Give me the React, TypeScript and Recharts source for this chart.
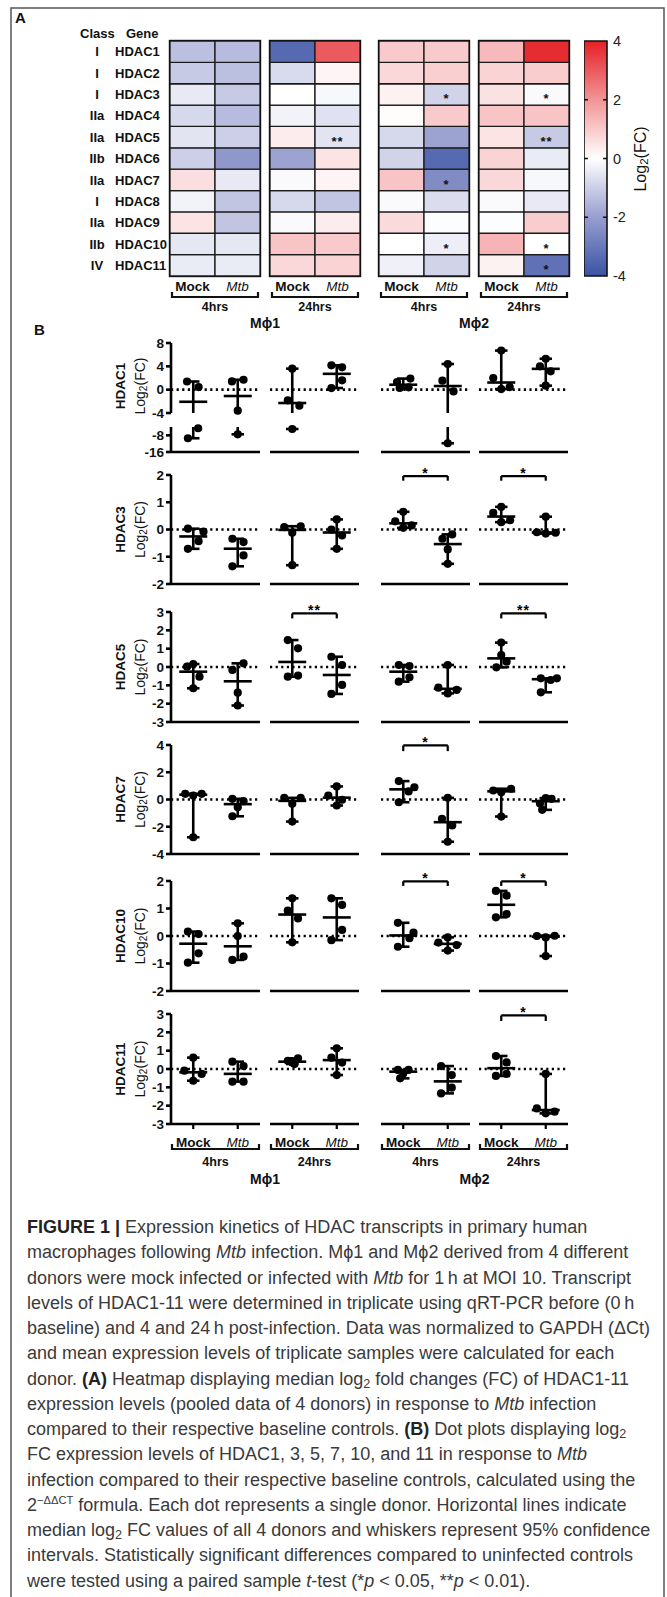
import React from 'react';
import {
  ScatterChart, Scatter, XAxis, YAxis, ReferenceLine, ReferenceArea,
  BarChart, Bar, Cell, LabelList,
} from 'recharts';

const FONT = '"Liberation Sans", Arial, Helvetica, sans-serif';

// ---------- categories ----------
const genes = ['HDAC1', 'HDAC2', 'HDAC3', 'HDAC4', 'HDAC5', 'HDAC6', 'HDAC7', 'HDAC8', 'HDAC9', 'HDAC10', 'HDAC11'];
const geneClasses = ['I', 'I', 'I', 'IIa', 'IIa', 'IIb', 'IIa', 'I', 'IIa', 'IIb', 'IV'];
const conditions = ['Mock', 'Mtb'];
const timepoints = ['4hrs', '24hrs'];
const cellTypes = ['M\u03d51', 'M\u03d52'];

// ---------- heatmap: median log2(FC) ----------
const heatM1h4Mock = [-1.3, -1.1, -0.45, -0.8, -0.55, -1.0, 0.6, -0.25, 0.5, -0.5, -0.4];
const heatM1h4Mtb = [-1.4, -1.3, -1.1, -1.4, -1.0, -2.2, -0.45, -1.2, -1.2, -0.5, -0.4];
const heatM1h24Mock = [-3.4, -0.75, 0, -0.25, 0.35, -1.9, -0.1, -0.8, -0.1, 1.1, 0.75];
const heatM1h24Mtb = [3.0, 0.2, -0.15, -0.6, -0.55, 0.5, 0.2, -1.2, 0.35, 1.0, 0.8];
const heatM2h4Mock = [1.0, 0.75, 0.25, 0.05, -0.8, -0.9, 1.1, -0.1, 0.7, 0, -0.3];
const heatM2h4Mtb = [1.0, 0.9, -0.9, 1.0, -1.9, -3.4, -2.5, -0.7, -0.05, -0.35, -0.9];
const heatM2h24Mock = [1.3, 0.8, 0.55, 1.1, 0.5, 0.8, 0.75, -0.1, -0.05, 1.4, 0.25];
const heatM2h24Mtb = [3.8, 0.95, -0.1, 1.1, -1.1, -0.4, -0.15, -0.45, 0.95, 0, -3.2];
const sigM1h4 = ['', '', '', '', '', '', '', '', '', '', ''];
const sigM1h24 = ['', '', '', '', '**', '', '', '', '', '', ''];
const sigM2h4 = ['', '', '*', '', '', '', '*', '', '', '*', ''];
const sigM2h24 = ['', '', '*', '', '**', '', '', '', '', '*', '*'];
const colorTicks = [-4, -2, 0, 2, 4];

const heatBlocks = [
  { values: [heatM1h4Mock, heatM1h4Mtb], sig: sigM1h4 },
  { values: [heatM1h24Mock, heatM1h24Mtb], sig: sigM1h24 },
  { values: [heatM2h4Mock, heatM2h4Mtb], sig: sigM2h4 },
  { values: [heatM2h24Mock, heatM2h24Mtb], sig: sigM2h24 },
];

// ---------- dot plots: per-donor log2(FC) ----------
// group order: M1 4h Mock, M1 4h Mtb, M1 24h Mock, M1 24h Mtb, M2 4h Mock, M2 4h Mtb, M2 24h Mock, M2 24h Mtb
const hdac1Dots = [
  [1.4, 0.45, -4.6, -9.4], [1.7, 1.42, -3.6, -7.5], [3.6, -1.83, -2.75, -4.96], [4.17, 3.83, 1.6, 0.28],
  [1.9, 1.3, 0.4, 0.3], [4.4, 1.54, -0.3, -11.8], [6.7, 2.0, 0.45, 0.1], [5.3, 4.0, 3.14, 0.69],
];
const hdac3Dots = [
  [0.03, -0.08, -0.43, -0.71], [-0.34, -0.46, -0.95, -1.35], [0.12, 0.09, -0.12, -1.31], [0.37, 0, -0.22, -0.71],
  [0.65, 0.3, 0.15, 0.06], [-0.18, -0.34, -0.73, -1.26], [0.83, 0.61, 0.34, 0.27], [0.47, -0.1, -0.12, -0.15],
];
const hdac5Dots = [
  [0.16, 0.02, -0.53, -1.16], [0.2, -0.16, -1.4, -2.1], [1.47, 1.02, -0.47, -0.53], [0.56, 0.11, -0.98, -1.47],
  [0.11, 0.05, -0.56, -0.8], [0.11, -1.13, -1.25, -1.44], [1.33, 0.65, 0.29, -0.02], [-0.62, -0.71, -0.62, -1.38],
];
const hdac7Dots = [
  [0.42, 0.42, 0.29, -2.77], [0.05, -0.12, -0.56, -1.23], [0.12, 0.12, -0.32, -1.62], [0.96, 0.29, -0.02, -0.44],
  [1.35, 0.9, 0.59, -0.2], [0.12, -1.42, -1.91, -3.1], [0.79, 0.66, 0.54, -1.25], [0.1, 0.05, -0.3, -0.76],
];
const hdac10Dots = [
  [0.16, 0.07, -0.63, -0.97], [0.46, 0, -0.75, -0.87], [1.37, 0.92, 0.64, -0.23], [1.37, 1.13, 0.22, -0.15],
  [0.48, 0.12, -0.08, -0.39], [-0.05, -0.24, -0.33, -0.53], [1.64, 1.47, 0.8, 0.68], [0.01, 0, -0.05, -0.73],
];
const hdac11Dots = [
  [0.62, -0.09, -0.27, -0.64], [0.4, 0.16, -0.69, -0.69], [0.58, 0.45, 0.35, 0.27], [1.13, 0.62, 0.35, -0.33],
  [-0.05, -0.05, -0.24, -0.51], [0.16, -0.33, -1.02, -1.33], [0.71, 0.36, -0.27, -0.38], [-0.27, -2.15, -2.33, -2.42],
];
// horizontal spread of overlapping dots (category units)
const hdac1Jitter = [
  [-0.14, 0.12, 0.11, -0.12], [0.13, -0.13, 0, 0], [0, -0.1, 0.16, 0], [-0.12, 0.12, 0.12, -0.12],
  [0.16, -0.14, 0.12, -0.08], [0, -0.12, 0.13, 0], [0, -0.18, 0.19, 0], [0, -0.13, 0.11, 0],
];
const hdac3Jitter = [
  [-0.12, 0.23, 0.12, -0.12], [-0.12, 0.13, 0.13, -0.12], [0.19, -0.18, 0, 0], [0, -0.12, 0.12, 0],
  [0, -0.18, 0.19, 0], [0.1, -0.12, 0, 0], [0, -0.18, 0.2, 0], [0, -0.2, 0.22, 0],
];
const hdac5Jitter = [
  [0, -0.14, 0.14, 0], [0.13, -0.12, 0, 0], [-0.1, 0.13, 0.13, -0.1], [-0.12, 0.12, 0.12, -0.12],
  [-0.1, 0.14, 0.14, -0.1], [0, -0.21, 0.2, 0], [0, 0, 0.12, -0.11], [-0.11, 0.11, 0.25, -0.11],
];
const hdac7Jitter = [
  [-0.18, 0.19, 0, 0], [-0.12, 0.13, 0, -0.12], [-0.18, 0.19, 0, 0], [0, -0.19, 0.12, 0],
  [-0.1, 0.25, 0.12, -0.1], [0, -0.13, 0.1, 0], [0.22, -0.18, 0, 0], [0, 0.13, -0.13, -0.08],
];
const hdac10Jitter = [
  [-0.12, 0.12, 0.12, -0.12], [0, 0, 0.13, -0.12], [0, -0.1, 0.13, 0], [-0.12, 0.12, 0.12, -0.12],
  [-0.12, 0.23, 0.14, -0.12], [0, -0.21, 0.2, 0], [-0.12, 0.12, 0.12, -0.12], [0.2, -0.2, 0, 0],
];
const hdac11Jitter = [
  [0, -0.2, 0.19, 0], [-0.12, 0.13, -0.12, 0.13], [0.13, -0.1, 0, 0.05], [0, -0.12, 0.12, 0],
  [-0.12, 0.12, 0, -0.07], [-0.15, 0.09, 0.09, -0.15], [-0.12, 0.12, 0.12, -0.12], [0, -0.2, 0.2, 0],
];
// significance brackets: segment (M1 4h, M1 24h, M2 4h, M2 24h), bracket level, leg length, label
const hdac3Sig = [{ seg: 2, y: 1.96, drop: 0.17, label: '*' }, { seg: 3, y: 1.96, drop: 0.17, label: '*' }];
const hdac5Sig = [{ seg: 1, y: 2.92, drop: 0.27, label: '**' }, { seg: 3, y: 2.92, drop: 0.27, label: '**' }];
const hdac7Sig = [{ seg: 2, y: 3.97, drop: 0.42, label: '*' }];
const hdac10Sig = [{ seg: 2, y: 1.99, drop: 0.17, label: '*' }, { seg: 3, y: 1.99, drop: 0.17, label: '*' }];
const hdac11Sig = [{ seg: 3, y: 2.92, drop: 0.3, label: '*' }];

// ---------- layout ----------
const SEG_LEFT = [171, 270, 381, 479];
const SEG_W = 89;
const HEAT_LEFT = [170, 270, 379, 479];
const HEAT_W = 90;
const HEAT_TOP = 41;
const HEAT_H = 235;
const YW = 50;
const CAP = 0.14;
const MED = 14;
const LW = 2.6;

const panels: any[] = [
  { gene: 'HDAC1', dots: hdac1Dots, jitter: hdac1Jitter, sig: [], top: 343, h: 70, domain: [-4, 8], ticks: [-4, 0, 4, 8],
    lower: { top: 427, h: 25, domain: [-16, -4], ticks: [-16, -8] }, labelY: 386 },
  { gene: 'HDAC3', dots: hdac3Dots, jitter: hdac3Jitter, sig: hdac3Sig, top: 475, h: 109, domain: [-2, 2], ticks: [-2, -1, 0, 1, 2] },
  { gene: 'HDAC5', dots: hdac5Dots, jitter: hdac5Jitter, sig: hdac5Sig, top: 612, h: 110, domain: [-3, 3], ticks: [-3, -2, -1, 0, 1, 2, 3] },
  { gene: 'HDAC7', dots: hdac7Dots, jitter: hdac7Jitter, sig: hdac7Sig, top: 745, h: 109, domain: [-4, 4], ticks: [-4, -2, 0, 2, 4] },
  { gene: 'HDAC10', dots: hdac10Dots, jitter: hdac10Jitter, sig: hdac10Sig, top: 881, h: 110, domain: [-2, 2], ticks: [-2, -1, 0, 1, 2] },
  { gene: 'HDAC11', dots: hdac11Dots, jitter: hdac11Jitter, sig: hdac11Sig, top: 1014, h: 110, domain: [-3, 3], ticks: [-3, -2, -1, 0, 1, 2, 3], last: true },
];

// ---------- colours ----------
const colorStops: [number, number[]][] = [
  [-4, [58, 83, 164]], [-2, [152, 158, 207]], [0, [255, 255, 255]], [2, [242, 148, 150]], [4, [228, 32, 38]],
];
function heatColor(v: number) {
  const x = Math.max(-4, Math.min(4, v));
  for (let i = 0; i < colorStops.length - 1; i++) {
    const [a, ca] = colorStops[i];
    const [b, cb] = colorStops[i + 1];
    if (x >= a && x <= b) {
      const t = (x - a) / (b - a);
      const c = ca.map((q, k) => Math.round(q + (cb[k] - q) * t));
      return `rgb(${c[0]},${c[1]},${c[2]})`;
    }
  }
  return '#fff';
}

function CatTick(props: any) {
  const { x, y, payload, dy = 15, fs = 13.5 } = props;
  const v = payload.value;
  const idx = typeof v === 'number' ? (v < 1 ? 0 : 1) : conditions.indexOf(v);
  return (
    <text x={x} y={y + dy} textAnchor="middle" fontSize={fs} fill="#111"
      fontWeight={idx === 0 ? 'bold' : 'normal'} fontStyle={idx === 1 ? 'italic' : 'normal'}>
      {conditions[idx]}
    </text>
  );
}

function MedianShape(p: any) {
  return <line x1={p.cx - MED} x2={p.cx + MED} y1={p.cy} y2={p.cy} stroke="#000" strokeWidth={LW} />;
}
function DotShape(p: any) {
  return <circle cx={p.cx} cy={p.cy} r={4.1} fill="#000" />;
}
function StarShape(p: any) {
  return (
    <text x={p.cx} y={p.cy + 1.5} textAnchor="middle" fontSize={14} fontWeight="bold" fill="#000" letterSpacing={1}>
      {p.payload.label}
    </text>
  );
}
const NoShape = () => <g />;

function SegChart({ cfg, seg, part }: any) {
  const isLower = part === 'lower';
  const isUpper = part === 'upper';
  const dom = isLower ? cfg.lower.domain : cfg.domain;
  const ticks = isLower ? cfg.lower.ticks : cfg.ticks;
  const plotTop = isLower ? cfg.lower.top : cfg.top;
  const plotH = isLower ? cfg.lower.h : cfg.h;
  const showX = !isUpper;
  const first = seg === 0;
  const MT = isLower ? 8 : 16;
  const MB = isUpper ? 12 : 2;
  const XH = showX ? (cfg.last ? 30 : 8) : 0;
  const inDom = (v: number) => v >= dom[0] && v <= dom[1];

  const dotData: any[] = [];
  const medData: any[] = [];
  const lines: any[] = [];
  [0, 1].forEach((k) => {
    const g = seg * 2 + k;
    const cx = k + 0.5;
    const vals: number[] = cfg.dots[g];
    const jit: number[] = cfg.jitter[g];
    vals.forEach((v, i) => { if (inDom(v)) dotData.push({ x: cx + jit[i], y: v }); });
    const s = [...vals].sort((a, b) => a - b);
    const med = (s[1] + s[2]) / 2;
    const lo = s[0];
    const hi = s[3];
    if (inDom(med)) medData.push({ x: cx, y: med });
    const a = Math.max(lo, dom[0]);
    const b = Math.min(hi, dom[1]);
    if (a < b) {
      lines.push([{ x: cx, y: a }, { x: cx, y: b }]);
      if (inDom(lo)) lines.push([{ x: cx - CAP, y: lo }, { x: cx + CAP, y: lo }]);
      if (inDom(hi)) lines.push([{ x: cx - CAP, y: hi }, { x: cx + CAP, y: hi }]);
    }
  });
  const sigs = part === 'full' ? cfg.sig.filter((q: any) => q.seg === seg) : [];
  const starData = sigs.map((q: any) => ({ x: 1, y: q.y, label: q.label }));
  const bracketLines: any[] = [];
  sigs.forEach((q: any) => {
    bracketLines.push([{ x: 0.5, y: q.y }, { x: 1.5, y: q.y }]);
    bracketLines.push([{ x: 0.5, y: q.y }, { x: 0.5, y: q.y - q.drop }]);
    bracketLines.push([{ x: 1.5, y: q.y }, { x: 1.5, y: q.y - q.drop }]);
  });

  const width = SEG_W + (first ? YW : 0) + 2;
  const height = MT + plotH + XH + MB;
  const children: any[] = [];
  children.push(
    <XAxis key="x" type="number" dataKey="x" domain={[0, 2]} ticks={[0.5, 1.5]} interval={0}
      hide={!showX} height={XH} axisLine={{ stroke: '#000', strokeWidth: LW }}
      tickLine={{ stroke: '#000', strokeWidth: 2.2 }} tickSize={5}
      tick={cfg.last ? <CatTick dy={16} /> : false} />,
  );
  children.push(
    <YAxis key="y" type="number" dataKey="y" domain={dom} ticks={ticks} interval={0} hide={!first} width={YW}
      axisLine={{ stroke: '#000', strokeWidth: LW }} tickLine={{ stroke: '#000', strokeWidth: LW }} tickSize={5}
      tick={{ fontSize: 13.5, fontWeight: 'bold', fill: '#111' }} />,
  );
  if (inDom(0)) {
    children.push(<ReferenceLine key="zero" y={0} stroke="#000" strokeWidth={2.6} strokeDasharray="2.2 3.4" ifOverflow="visible" />);
  }
  lines.forEach((sg, i) => {
    children.push(<ReferenceLine key={'w' + i} segment={sg} stroke="#000" strokeWidth={LW} ifOverflow="visible" />);
  });
  bracketLines.forEach((sg, i) => {
    children.push(<ReferenceLine key={'b' + i} segment={sg} stroke="#000" strokeWidth={2.2} ifOverflow="visible" />);
  });
  children.push(<Scatter key="dots" data={dotData} shape={DotShape} isAnimationActive={false} />);
  children.push(<Scatter key="med" data={medData} shape={MedianShape} isAnimationActive={false} />);
  children.push(<Scatter key="star" data={starData} shape={StarShape} isAnimationActive={false} />);

  return (
    <div style={{ position: 'absolute', left: SEG_LEFT[seg] - (first ? YW : 0), top: plotTop - MT }}>
      <ScatterChart width={width} height={height} margin={{ top: MT, right: 2, bottom: MB, left: 0 }}>
        {children}
      </ScatterChart>
    </div>
  );
}

function HeatBlock({ block, left }: any) {
  const data = conditions.map((c) => {
    const row: any = { cat: c };
    genes.forEach((g) => { row[g] = 1; });
    return row;
  });
  const order = genes.map((g, i) => i).reverse();
  return (
    <div style={{ position: 'absolute', left, top: HEAT_TOP }}>
      <BarChart width={HEAT_W} height={HEAT_H + 22} data={data} margin={{ top: 0, right: 0, bottom: 0, left: 0 }}
        barCategoryGap={0} barGap={0}>
        <XAxis dataKey="cat" tickLine={false} axisLine={false} tickSize={0} tickMargin={0} height={22}
          interval={0} tick={<CatTick dy={15} />} />
        <YAxis type="number" domain={[0, genes.length]} hide />
        {order.map((gi) => (
          <Bar key={genes[gi]} dataKey={genes[gi]} stackId="h" isAnimationActive={false}>
            {conditions.map((c, ci) => (
              <Cell key={c} fill={heatColor(block.values[ci][gi])} stroke="#1a1a1a" strokeWidth={1.3} />
            ))}
            <LabelList content={(p: any) => {
              const s = p.index === 1 ? block.sig[gi] : '';
              if (!s) return null;
              return (
                <text x={p.x + p.width / 2} y={p.y + p.height / 2 + 9} textAnchor="middle" fontSize={13}
                  fontWeight="bold" fill="#111" letterSpacing={1}>{s}</text>
              );
            }} />
          </Bar>
        ))}
      </BarChart>
    </div>
  );
}

function ColorBar() {
  const data = colorTicks.map((t) => ({ x: 0.5, y: t }));
  const marks: any[] = [];
  colorTicks.filter((t) => t > -4 && t < 4).forEach((t) => {
    marks.push(<ReferenceLine key={'l' + t} segment={[{ x: 0, y: t }, { x: 0.17, y: t }]} stroke="#111" strokeWidth={1.6} ifOverflow="visible" />);
    marks.push(<ReferenceLine key={'r' + t} segment={[{ x: 0.83, y: t }, { x: 1, y: t }]} stroke="#111" strokeWidth={1.6} ifOverflow="visible" />);
  });
  return (
    <div style={{ position: 'absolute', left: 584, top: HEAT_TOP - 10 }}>
      <ScatterChart width={23 + 34} height={HEAT_H + 20} margin={{ top: 10, right: 0, bottom: 10, left: 0 }}>
        <XAxis type="number" dataKey="x" domain={[0, 1]} hide />
        <YAxis type="number" dataKey="y" orientation="right" domain={[-4, 4]} ticks={colorTicks} interval={0} width={34}
          axisLine={false} tickLine={false} tickSize={4} tick={{ fontSize: 14.5, fill: '#222' }} />
        <ReferenceArea x1={0} x2={1} y1={-4} y2={4} fill="url(#cbGrad)" fillOpacity={1} stroke="#111" strokeWidth={1.6} ifOverflow="visible" />
        {marks}
        <Scatter data={data} shape={NoShape} isAnimationActive={false} />
      </ScatterChart>
    </div>
  );
}

function Log2Label({ x, y, fs }: any) {
  return (
    <text transform={`translate(${x},${y}) rotate(-90)`} textAnchor="middle" dominantBaseline="central" fontSize={fs} fill="#111">
      Log<tspan fontSize={fs * 0.72} dy={fs * 0.22}>2</tspan><tspan dy={-fs * 0.22}>(FC)</tspan>
    </text>
  );
}

function Overlay() {
  const rowH = HEAT_H / genes.length;
  const segC = SEG_LEFT.map((l) => l + SEG_W / 2);
  const heatC = HEAT_LEFT.map((l) => l + HEAT_W / 2);
  return (
    <svg width={667} height={1597} style={{ position: 'absolute', left: 0, top: 0 }} fontFamily={FONT}>
      <defs>
        <linearGradient id="cbGrad" x1="0" y1="0" x2="0" y2="1">
          {[...colorStops].reverse().map(([v, c], i) => (
            <stop key={i} offset={`${((4 - v) / 8) * 100}%`} stopColor={`rgb(${c[0]},${c[1]},${c[2]})`} />
          ))}
        </linearGradient>
      </defs>
      {/* frame */}
      <path d="M11,1597 V8 H664 V1597" fill="none" stroke="#555" strokeWidth={1.5} />
      <text x={15} y={23} fontSize={15} fontWeight="bold" fill="#111">A</text>
      <text x={34} y={335} fontSize={15} fontWeight="bold" fill="#111">B</text>
      {/* heatmap row labels */}
      <text x={80} y={38} fontSize={13} fontWeight="bold" fill="#111">Class</text>
      <text x={126} y={38} fontSize={13} fontWeight="bold" fill="#111">Gene</text>
      {genes.map((g, i) => (
        <g key={g}>
          <text x={97} y={HEAT_TOP + rowH * (i + 0.5) + 4.7} fontSize={13} fontWeight="bold" textAnchor="middle" fill="#111">{geneClasses[i]}</text>
          <text x={115} y={HEAT_TOP + rowH * (i + 0.5) + 4.7} fontSize={13} fontWeight="bold" fill="#111">{g}</text>
        </g>
      ))}
      {HEAT_LEFT.map((l, b) => (
        <g key={'hb' + b}>
          <rect x={l} y={HEAT_TOP} width={HEAT_W} height={HEAT_H} fill="none" stroke="#111" strokeWidth={2.4} />
          <path d={`M${l + 2},292 V297 H${l + HEAT_W - 2} V292`} fill="none" stroke="#111" strokeWidth={2.2} />
          <text x={heatC[b]} y={311} fontSize={12.5} fontWeight="bold" textAnchor="middle" fill="#111">{timepoints[b % 2]}</text>
        </g>
      ))}
      {cellTypes.map((c, i) => (
        <text key={'hc' + i} x={(heatC[i * 2] + heatC[i * 2 + 1]) / 2} y={328} fontSize={14} fontWeight="bold" textAnchor="middle" fill="#111">{c}</text>
      ))}
      <Log2Label x={640} y={159} fs={16} />
      {/* dot plot labels */}
      {panels.map((p) => {
        const cy = p.labelY || p.top + p.h / 2;
        return (
          <g key={'pl' + p.gene}>
            <text transform={`translate(120,${cy}) rotate(-90)`} textAnchor="middle" dominantBaseline="central" fontSize={13.5} fontWeight="bold" fill="#111">{p.gene}</text>
            <Log2Label x={140} y={cy} fs={14} />
          </g>
        );
      })}
      {SEG_LEFT.map((l, s) => (
        <g key={'db' + s}>
          <path d={`M${l + 1},1144 V1149 H${l + SEG_W - 1} V1144`} fill="none" stroke="#111" strokeWidth={2.2} />
          <text x={segC[s]} y={1166} fontSize={12.5} fontWeight="bold" textAnchor="middle" fill="#111">{timepoints[s % 2]}</text>
        </g>
      ))}
      {cellTypes.map((c, i) => (
        <text key={'dc' + i} x={(segC[i * 2] + segC[i * 2 + 1]) / 2} y={1184} fontSize={14} fontWeight="bold" textAnchor="middle" fill="#111">{c}</text>
      ))}
    </svg>
  );
}

function Caption() {
  const sub = { fontSize: '70%', verticalAlign: '-0.25em', lineHeight: 0 } as any;
  const sup = { fontSize: '62%', verticalAlign: '0.6em', lineHeight: 0 } as any;
  const th = '\u2009';
  const lines: any[] = [
    <><b style={{ color: '#222' }}>FIGURE 1 |</b> Expression kinetics of HDAC transcripts in primary human</>,
    <>macrophages following <i>Mtb</i> infection. M{'\u03d5'}1 and M{'\u03d5'}2 derived from 4 different</>,
    <>donors were mock infected or infected with <i>Mtb</i> for 1{th}h at MOI 10. Transcript</>,
    <>levels of HDAC1-11 were determined in triplicate using qRT-PCR before (0{th}h</>,
    <>baseline) and 4 and 24{th}h post-infection. Data was normalized to GAPDH ({'\u0394'}Ct)</>,
    <>and mean expression levels of triplicate samples were calculated for each</>,
    <>donor. <b style={{ color: '#222' }}>(A)</b> Heatmap displaying median log<span style={sub}>2</span> fold changes (FC) of HDAC1-11</>,
    <>expression levels (pooled data of 4 donors) in response to <i>Mtb</i> infection</>,
    <>compared to their respective baseline controls. <b style={{ color: '#222' }}>(B)</b> Dot plots displaying log<span style={sub}>2</span></>,
    <>FC expression levels of HDAC1, 3, 5, 7, 10, and 11 in response to <i>Mtb</i></>,
    <>infection compared to their respective baseline controls, calculated using the</>,
    <>2<span style={sup}>{'\u2212\u0394\u0394CT'}</span> formula. Each dot represents a single donor. Horizontal lines indicate</>,
    <>median log<span style={sub}>2</span> FC values of all 4 donors and whiskers represent 95% confidence</>,
    <>intervals. Statistically significant differences compared to uninfected controls</>,
    <>were tested using a paired sample <i>t</i>-test (*<i>p</i> &lt; 0.05, **<i>p</i> &lt; 0.01).</>,
  ];
  return (
    <div style={{ position: 'absolute', left: 27, top: 1215, fontFamily: FONT, fontSize: 18, color: '#3a3a3a', whiteSpace: 'nowrap' }}>
      {lines.map((l, i) => (
        <div key={i} style={{ height: 25.25, lineHeight: '25.25px' }}>{l}</div>
      ))}
    </div>
  );
}

export default function App() {
  const charts: any[] = [];
  panels.forEach((p, pi) => {
    [0, 1, 2, 3].forEach((s) => {
      if (p.lower) {
        charts.push(<SegChart key={`${pi}-${s}-u`} cfg={p} seg={s} part="upper" />);
        charts.push(<SegChart key={`${pi}-${s}-l`} cfg={p} seg={s} part="lower" />);
      } else {
        charts.push(<SegChart key={`${pi}-${s}`} cfg={p} seg={s} part="full" />);
      }
    });
  });
  return (
    <div style={{ position: 'absolute', left: 0, top: 0, width: 667, height: 1597, background: '#fff', fontFamily: FONT, overflow: 'hidden' }}>
      <Overlay />
      {heatBlocks.map((b, i) => <HeatBlock key={i} block={b} left={HEAT_LEFT[i]} />)}
      <ColorBar />
      {charts}
      <Caption />
    </div>
  );
}
